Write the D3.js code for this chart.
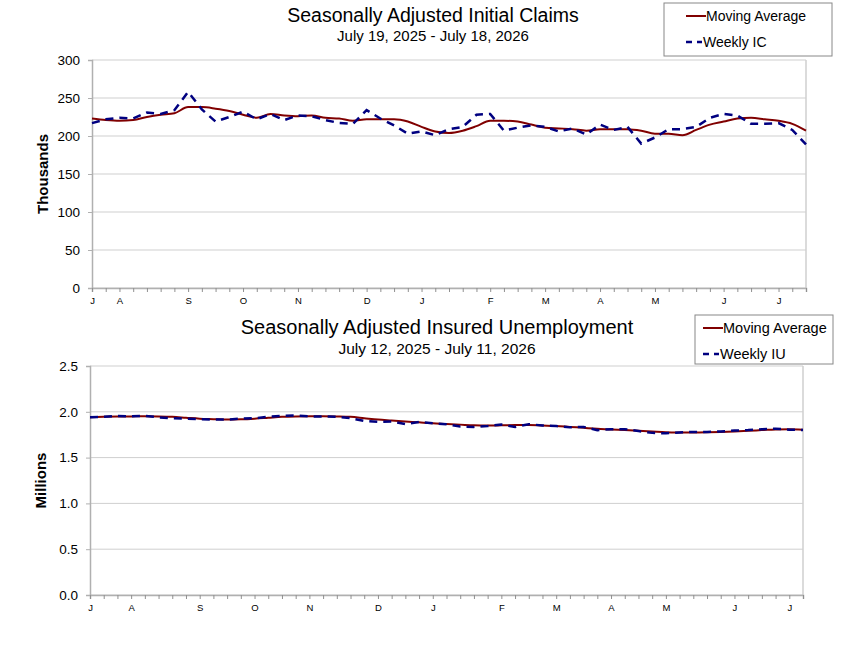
<!DOCTYPE html>
<html>
<head>
<meta charset="utf-8">
<script src="https://cdn.jsdelivr.net/npm/d3@7"></script>
<style>
  body { margin: 0; background: #fff; }
  text { font-family: "Liberation Sans", Arial, sans-serif; fill: #000; }
</style>
</head>
<body>
<svg id="chart" width="844" height="651"></svg>
<script>
// weekly initial claims, thousands (Jul 19 2025 .. Jul 18 2026)
const icWeekly = [217, 222, 224, 223, 231, 229, 234, 258, 235, 219, 225, 232, 222, 229, 221, 227,
  226, 221, 217, 216, 234, 223, 214, 203, 206, 201, 209, 212, 228, 229, 207, 211, 214, 212, 206,
  210, 202, 215, 208, 212, 190, 198, 209, 209, 212, 224, 229, 227, 216, 216, 217, 208, 189];
const icAverage = [223, 221, 220, 221, 225, 228, 230, 238, 238, 236, 233, 228, 224, 229, 227, 226,
  227, 224, 223, 220, 222, 222, 222, 219, 212, 206, 204, 207, 213, 220, 220, 219, 215, 211, 210,
  209, 207, 209, 209, 209, 207, 203, 203, 201, 208, 215, 219, 223, 224, 222, 220, 216, 207];
const icTicks = [[0, 'J'], [2, 'A'], [7, 'S'], [11, 'O'], [15, 'N'], [20, 'D'], [24, 'J'],
  [29, 'F'], [33, 'M'], [37, 'A'], [41, 'M'], [46, 'J'], [50, 'J']];

// weekly insured unemployment, millions (Jul 12 2025 .. Jul 11 2026)
const iuWeekly = [1.94, 1.945, 1.955, 1.95, 1.955, 1.94, 1.93, 1.925, 1.92, 1.915, 1.915, 1.925,
  1.93, 1.945, 1.955, 1.96, 1.95, 1.95, 1.945, 1.93, 1.90, 1.89, 1.895, 1.865, 1.89, 1.875, 1.865,
  1.84, 1.835, 1.845, 1.86, 1.835, 1.865, 1.85, 1.845, 1.83, 1.835, 1.80, 1.81, 1.81, 1.79, 1.77,
  1.765, 1.775, 1.78, 1.78, 1.785, 1.795, 1.80, 1.81, 1.815, 1.805, 1.80];
const iuAverage = [1.94, 1.945, 1.948, 1.95, 1.952, 1.95, 1.945, 1.935, 1.925, 1.92, 1.915, 1.918,
  1.925, 1.935, 1.945, 1.95, 1.952, 1.952, 1.95, 1.945, 1.93, 1.915, 1.905, 1.895, 1.885, 1.875,
  1.868, 1.86, 1.852, 1.85, 1.852, 1.855, 1.855, 1.85, 1.845, 1.835, 1.825, 1.815, 1.808, 1.80,
  1.792, 1.785, 1.778, 1.775, 1.774, 1.776, 1.78, 1.785, 1.792, 1.80, 1.808, 1.81, 1.805];
const iuTicks = [[0, 'J'], [3, 'A'], [8, 'S'], [12, 'O'], [16, 'N'], [21, 'D'], [25, 'J'],
  [30, 'F'], [34, 'M'], [38, 'A'], [42, 'M'], [47, 'J'], [51, 'J']];

const svg = d3.select('#chart');

function drawPanel(cfg) {
  const { left, right, top, bottom } = cfg;
  const g = svg.append('g');

  const x = d3.scaleLinear().domain([0, cfg.weekly.length - 1]).range([left, right]);
  const y = d3.scaleLinear().domain([0, cfg.yMax]).range([bottom, top]);

  // gridlines
  g.selectAll('line.grid')
    .data(cfg.yTicks)
    .enter()
    .append('line')
    .attr('x1', left)
    .attr('x2', right)
    .attr('y1', (d) => y(d))
    .attr('y2', (d) => y(d))
    .attr('stroke', '#cfcfcf')
    .attr('stroke-width', 1);

  // right border
  g.append('line')
    .attr('x1', right).attr('x2', right)
    .attr('y1', top).attr('y2', bottom)
    .attr('stroke', '#cfcfcf')
    .attr('stroke-width', 1.5);

  // y axis
  const yAxis = g.append('g')
    .attr('transform', `translate(${left},0)`)
    .call(d3.axisLeft(y).tickValues(cfg.yTicks).tickFormat(cfg.yFormat).tickSize(4).tickPadding(8));
  yAxis.select('.domain').attr('stroke', '#b0b0b0').attr('stroke-width', 1.5);
  yAxis.selectAll('.tick line').attr('stroke', '#b0b0b0');
  yAxis.selectAll('text').style('font-size', '13.5px').attr('fill', '#000');

  // x axis: a tick every week, month letters at first week of month
  const labels = new Map(cfg.xTicks);
  const xAxis = g.append('g')
    .attr('transform', `translate(0,${bottom})`)
    .call(d3.axisBottom(x).tickValues(d3.range(cfg.weekly.length)).tickSize(4).tickPadding(5)
      .tickFormat((d) => labels.get(d) || ''));
  xAxis.select('.domain').attr('stroke', '#b0b0b0').attr('stroke-width', 1.5);
  xAxis.selectAll('.tick line').attr('stroke', '#909090');
  xAxis.selectAll('text').style('font-size', '9.5px').attr('fill', '#000');

  // y axis title
  g.append('text')
    .attr('transform', `translate(${left - 44},${(top + bottom) / 2}) rotate(-90)`)
    .attr('text-anchor', 'middle')
    .style('font-size', '15px')
    .style('font-weight', 'bold')
    .text(cfg.yLabel);

  const line = d3.line()
    .x((d, i) => x(i))
    .y((d) => y(d))
    .curve(d3.curveMonotoneX);

  g.append('path')
    .datum(cfg.average)
    .attr('d', line)
    .attr('fill', 'none')
    .attr('stroke', '#800000')
    .attr('stroke-width', 2);

  g.append('path')
    .datum(cfg.weekly)
    .attr('d', d3.line().x((d, i) => x(i)).y((d) => y(d)))
    .attr('fill', 'none')
    .attr('stroke', '#000080')
    .attr('stroke-width', 2.5)
    .attr('stroke-dasharray', '8,6');

  // titles
  g.append('text')
    .attr('x', cfg.titleX)
    .attr('y', cfg.titleY)
    .attr('text-anchor', 'middle')
    .style('font-size', cfg.titleSize)
    .text(cfg.title);
  g.append('text')
    .attr('x', cfg.titleX)
    .attr('y', cfg.subY)
    .attr('text-anchor', 'middle')
    .style('font-size', cfg.subSize)
    .text(cfg.subtitle);

  // legend
  const lg = g.append('g').attr('transform', `translate(${cfg.legend[0]},${cfg.legend[1]})`);
  lg.append('rect')
    .attr('width', cfg.legend[2])
    .attr('height', cfg.legend[3])
    .attr('fill', '#fff')
    .attr('stroke', '#888')
    .attr('stroke-width', 1);
  lg.append('line')
    .attr('x1', cfg.legendPad).attr('x2', cfg.legendPad + 20)
    .attr('y1', 13).attr('y2', 13)
    .attr('stroke', '#800000').attr('stroke-width', 2);
  lg.append('text')
    .attr('x', cfg.legendPad + 20)
    .attr('y', 18)
    .style('font-size', cfg.legendSize)
    .text('Moving Average');
  lg.append('line')
    .attr('x1', cfg.legendPad).attr('x2', cfg.legendPad + 16)
    .attr('y1', 39).attr('y2', 39)
    .attr('stroke', '#000080').attr('stroke-width', 2.5)
    .attr('stroke-dasharray', '6,5');
  lg.append('text')
    .attr('x', cfg.legendPad + 17)
    .attr('y', 44)
    .style('font-size', cfg.legendSize)
    .text(cfg.weeklyName);
}

drawPanel({
  left: 92, right: 806, top: 60, bottom: 288,
  weekly: icWeekly, average: icAverage, xTicks: icTicks,
  yMax: 300, yTicks: [0, 50, 100, 150, 200, 250, 300], yFormat: d3.format('d'),
  yLabel: 'Thousands',
  title: 'Seasonally Adjusted Initial Claims', titleSize: '19.5px',
  subtitle: 'July 19, 2025 - July 18, 2026', subSize: '15px',
  titleX: 433, titleY: 22, subY: 41,
  legend: [664, 3, 168, 53], legendPad: 22, weeklyName: 'Weekly IC', legendSize: '14px',
});

drawPanel({
  left: 90, right: 803, top: 366, bottom: 595,
  weekly: iuWeekly, average: iuAverage, xTicks: iuTicks,
  yMax: 2.5, yTicks: [0, 0.5, 1, 1.5, 2, 2.5], yFormat: d3.format('.1f'),
  yLabel: 'Millions',
  title: 'Seasonally Adjusted Insured Unemployment', titleSize: '20px',
  subtitle: 'July 12, 2025 - July 11, 2026', subSize: '15.5px',
  titleX: 437, titleY: 334, subY: 354,
  legend: [695, 315, 138, 49], legendPad: 8, weeklyName: 'Weekly IU', legendSize: '14.5px',
});
</script>
</body>
</html>
